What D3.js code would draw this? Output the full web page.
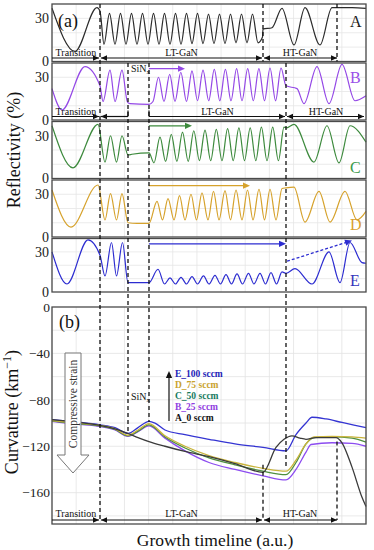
<!DOCTYPE html>
<html><head><meta charset="utf-8">
<script src="https://cdn.jsdelivr.net/npm/d3@7/dist/d3.min.js"></script>
<style>
body{margin:0;background:#fff}
svg{display:block}
text{font-family:"Liberation Serif","Times New Roman",serif}
</style>
</head><body>
<svg id="c" width="374" height="550"></svg>
<script>
// ---------------- DATA ----------------
const timelineMax = 314;             // growth timeline, a.u.
const reflTicks = [0, 30];
const curvTicks = [0, -40, -80, -120, -160];
const sampleNames = ["A", "B", "C", "D", "E"];
const legendLabels = ["E_100 sccm", "D_75 sccm", "C_50 sccm", "B_25 sccm", "A_0 sccm"];

// reflectivity (%) vs timeline : [t, R]
const reflA = [[0,37],[23,7],[45,37.5],[48,35],[52,12],[57.5,33.5],[63,12],[68.5,33.5],[74,12],[79.5,33.5],[85,12],[90.5,33.5],[96,12],[101.5,33.5],[107,12],[112.5,33.5],[118,12],[123.5,33.5],[129,12],[134.5,33.5],[140,12.5],[145.5,33.5],[151,12.5],[156.5,33],[162,12.5],[167.5,33],[173,12.5],[178.5,33],[184,13],[189.5,33],[195,13],[200.5,33],[206,13],[210.5,17],[211,22.5],[220,23.5],[230,37],[242,11.5],[253,37.5],[268,11.5],[280,37.5],[285,37.5],[300,37.5],[314,37]];
const reflB = [[0,22],[10,7],[33,37.5],[48,24],[51,13],[58,35],[63,13],[70,35],[75.5,12.5],[78,11.5],[97,11],[101,13],[106.5,30],[112,13],[117.7,32],[123,13],[128.8,33.5],[134.5,13],[140,34.5],[145.5,13.5],[151,35],[156.7,13.5],[162.3,35.5],[167.8,13.5],[173.4,35.5],[179,13.5],[184.6,36],[190,13.5],[195.7,36],[201.3,13.5],[206.9,36],[212.5,13.5],[218,36.5],[223.6,13.5],[229,36.5],[234,24],[245,22],[252,11.5],[265,37.5],[277,11.5],[290,39],[303,13.5],[314,17]];
const reflC = [[0,37],[21,7.5],[46,38],[53,11.5],[58.5,30],[64.5,11.5],[70,30],[76,16.5],[80,17],[97,18],[102,11],[108,29],[113.6,12],[119.3,31],[124.9,12],[130.5,32.5],[136.2,12],[141.8,33.5],[147.4,12.5],[153,34],[158.7,12.5],[164.3,34.5],[170,12.5],[175.6,35],[181.2,12.5],[186.9,35.5],[192.5,12.5],[198.2,35.5],[203.8,12.5],[209.4,36],[215,12.5],[220.7,36],[226.4,12.5],[232,36],[234,35.5],[242,38],[262,11.5],[275,37],[287,11],[298,37],[314,25.5]];
const reflD = [[0,33],[19,7],[46,36.5],[53,12],[58.5,30.5],[64.5,12],[70,30.5],[76,10],[85,9.5],[97,9.5],[105,25],[110.5,12],[116,27],[122,12],[127.5,29],[133,12],[139,30],[144.5,12],[150,31],[156,12],[161.5,32],[167,12],[173,32.5],[178.5,12],[184,33],[190,12],[195.5,33],[201,12],[207,33.5],[212.5,12],[218,33.5],[224,12],[230,34],[234,34.5],[242,35],[253,10.5],[267,32],[278,10.5],[293,32],[305,12],[314,18]];
const reflE = [[0,30],[15,6],[36,39],[48,27.5],[53,12],[59.5,37],[64.5,12],[70.5,37],[76,7],[85,7],[97,7],[106,17],[112.5,6],[118,10.5],[123.5,6],[129,11],[134.5,6],[140,11.5],[145.5,6],[151.5,12],[157,6],[163,12.5],[168.5,6],[174,13],[179.5,6],[185,13.5],[190.5,6],[196.5,14],[202,6],[208,14],[213.5,6],[219,14.5],[224.5,6],[230,15],[234,14],[243,17.5],[260,6],[277,30],[288,7],[298,37],[310,22],[314,21.5]];

// curvature (km^-1) vs timeline : [t, K]
const curvA = [[0,-97],[24,-99],[48,-102],[63,-105],[76,-109],[86,-112.5],[97,-116],[113,-120],[133,-124.5],[157,-129],[183,-135],[211,-142.5],[224,-121],[232,-114],[240,-111],[248,-113],[254,-114],[264,-112.5],[284,-112.5],[290,-117],[300,-138],[310,-164],[314,-172]];
const curvB = [[0,-98.5],[24,-101],[48,-103],[63,-106],[76,-111.5],[86,-107.5],[97,-102.5],[113,-113],[133,-124],[157,-134],[183,-140],[211,-145.5],[234,-149],[244,-140],[254,-125],[259,-118.5],[280,-117],[300,-117.5],[314,-120]];
const curvC = [[0,-98],[24,-100.5],[48,-102.5],[63,-105.5],[76,-111],[86,-107],[97,-101.5],[113,-112],[133,-121.5],[157,-130],[183,-136],[211,-141.5],[234,-144.5],[244,-134],[254,-118],[262,-112.5],[280,-112],[300,-113],[314,-116.5]];
const curvD = [[0,-98],[24,-100],[48,-102],[63,-105],[76,-110.5],[86,-106],[97,-100.5],[113,-111],[133,-120],[157,-128],[183,-134],[211,-139],[234,-141.5],[244,-132],[254,-118],[262,-112],[280,-111.5],[300,-112],[314,-113]];
const curvE = [[0,-97],[24,-99],[48,-101.5],[63,-104],[76,-109],[86,-104],[97,-98.5],[103,-100],[113,-106],[133,-110],[157,-114],[183,-118],[211,-121],[234,-124],[244,-110],[254,-100],[260,-95],[274,-96.5],[290,-99.5],[314,-104]];

// stage boundaries on the timeline
const stagesA = [["Transition",0,48],["LT-GaN",48,211],["HT-GaN",211,285]];
const stagesB = [["Transition",0,48],["LT-GaN",97,234],["HT-GaN",234,314]];
const sinStart = 76, sinEnd = 97;

// ---------------- DRAWING ----------------
const svg = d3.select("#c");
const X0 = 52, X1 = 366;
const x = d3.scaleLinear().domain([0, timelineMax]).range([X0, X1]);
const gridX = d3.range(0, timelineMax + 0.1, timelineMax / 13);

const panels = [
  {name:"A", data:reflA, top:4,     bottom:61.5, color:"#2b2b2b", lab:"#1a1a1a", ly:23},
  {name:"B", data:reflB, top:63,    bottom:120,  color:"#9448e6", lab:"#9a4ee8", ly:20},
  {name:"C", data:reflC, top:121.5, bottom:178.5,color:"#3d8a3d", lab:"#3a9a4a", ly:51},
  {name:"D", data:reflD, top:180,   bottom:237,  color:"#d6a22c", lab:"#d9a030", ly:50},
  {name:"E", data:reflE, top:238.5, bottom:292,  color:"#2c2cd0", lab:"#3333bb", ly:47}
];
panels.forEach(p => p.y = d3.scaleLinear().domain([0, 40]).range([p.bottom, p.top]));

function head(g, xx, yy, angle, color, size) {
  size = size || 6;
  const a = angle, w = size * 0.45;
  const pts = [[xx, yy],
    [xx - size*Math.cos(a) + w*Math.sin(a), yy - size*Math.sin(a) - w*Math.cos(a)],
    [xx - size*Math.cos(a) - w*Math.sin(a), yy - size*Math.sin(a) + w*Math.cos(a)]];
  g.append("path").attr("d", "M" + pts.map(p => p.join(",")).join("L") + "Z").attr("fill", color);
}
function hArrow(g, x1, x2, yy, h1, h2, color) {
  color = color || "#111";
  g.append("line").attr("x1", x1).attr("x2", x2).attr("y1", yy).attr("y2", yy)
    .attr("stroke", color).attr("stroke-width", 1.2);
  if (h1) head(g, x1, yy, Math.PI, color);
  if (h2) head(g, x2, yy, 0, color);
}

const gGrid = svg.append("g");
const gLines = svg.append("g");
const gAnn = svg.append("g");

// ---- panel (a) ----
panels.forEach(p => {
  gridX.forEach(t => gGrid.append("line").attr("x1", x(t)).attr("x2", x(t))
    .attr("y1", p.top).attr("y2", p.bottom).attr("stroke", "#e6e6e6").attr("stroke-width", 0.8));
  [10,20,30].forEach(v => gGrid.append("line").attr("x1", X0).attr("x2", X1)
    .attr("y1", p.y(v)).attr("y2", p.y(v)).attr("stroke", "#e6e6e6").attr("stroke-width", 0.8));
  const line = d3.line().x(d => x(d[0])).y(d => p.y(d[1])).curve(d3.curveMonotoneX);
  gLines.append("path").datum(p.data).attr("d", line).attr("fill", "none")
    .attr("stroke", p.color).attr("stroke-width", 1.2);
  gAnn.append("rect").attr("x", X0).attr("y", p.top).attr("width", X1 - X0).attr("height", p.bottom - p.top)
    .attr("fill", "none").attr("stroke", "#4a4a4a").attr("stroke-width", 1.3);
  reflTicks.forEach(v => gAnn.append("text").attr("x", 49).attr("y", p.y(v)).attr("dy", "0.35em")
    .attr("text-anchor", "end").attr("font-size", 14).attr("fill", "#222").text(v));
  gAnn.append("text").attr("x", 350).attr("y", p.top + p.ly)
    .attr("font-size", 16).attr("fill", p.lab).text(p.name);
});
const PA = panels[0], PB = panels[1], PC = panels[2], PD = panels[3], PE = panels[4];

// stage arrows in A
const yArrA = 58, yArrB = 116.5;
hArrow(gAnn, x(stagesA[0][1]), x(stagesA[0][2]) - 1, yArrA, false, true);
hArrow(gAnn, x(stagesA[1][1]) + 1, x(stagesA[1][2]) - 1, yArrA, true, true);
hArrow(gAnn, x(stagesA[2][1]) + 1, x(stagesA[2][2]), yArrA, true, true);
stagesA.forEach(s => gAnn.append("text").attr("x", x((s[1] + s[2]) / 2)).attr("y", yArrA - 2)
  .attr("text-anchor", "middle").attr("font-size", 10).attr("fill", "#111").text(s[0]));
// stage arrows in B
hArrow(gAnn, x(0), x(48) - 1, yArrB, false, true);
hArrow(gAnn, x(48) + 1, x(sinStart), yArrB, true, false);
gAnn.append("line").attr("x1", x(sinStart)).attr("x2", x(sinStart)).attr("y1", yArrB).attr("y2", yArrB - 6).attr("stroke", "#111").attr("stroke-width", 1.2);
hArrow(gAnn, x(sinEnd), x(234) - 1, yArrB, false, true);
gAnn.append("line").attr("x1", x(sinEnd)).attr("x2", x(sinEnd)).attr("y1", yArrB).attr("y2", yArrB - 6).attr("stroke", "#111").attr("stroke-width", 1.2);
hArrow(gAnn, x(234) + 1, x(314) - 2, yArrB, true, true);
stagesB.forEach(s => gAnn.append("text").attr("x", x((s[1] + s[2]) / 2)).attr("y", yArrB - 2)
  .attr("text-anchor", "middle").attr("font-size", 10).attr("fill", "#111").text(s[0]));
// SiNx in B
const sinA = gAnn.append("text").attr("x", x(sinStart) + 3).attr("y", PB.y(34)).attr("font-size", 10).attr("fill", "#111");
sinA.append("tspan").text("SiN");
sinA.append("tspan").attr("font-size", 7).attr("dy", 2).text("x");

// colored growth arrows
[[PB, 133, 36], [PC, 140, 37], [PD, 198, 36], [PE, 234, 36]].forEach(([p, t2, v]) => {
  gAnn.append("line").attr("x1", x(sinEnd)).attr("x2", x(t2) - 3).attr("y1", p.y(v)).attr("y2", p.y(v))
    .attr("stroke", p.color).attr("stroke-width", 1.3);
  head(gAnn, x(t2), p.y(v), 0, p.color, 7);
});
// dashed arrow in E
{
  const x1 = x(235), y1 = PE.y(23), x2 = x(300), y2 = PE.y(38.5);
  const ang = Math.atan2(y2 - y1, x2 - x1);
  gAnn.append("line").attr("x1", x1).attr("y1", y1).attr("x2", x2 - 5*Math.cos(ang)).attr("y2", y2 - 5*Math.sin(ang))
    .attr("stroke", PE.color).attr("stroke-width", 1.3).attr("stroke-dasharray", "3,2");
  head(gAnn, x2, y2, ang, PE.color, 7);
}
gAnn.append("text").attr("x", 58).attr("y", 27).attr("font-size", 18).attr("fill", "#111").text("(a)");

// ---- panel (b) ----
const BT = 307, BB = 524;
const yc = d3.scaleLinear().domain([-187, 0]).range([BB, BT]);
gridX.forEach(t => gGrid.append("line").attr("x1", x(t)).attr("x2", x(t))
  .attr("y1", BT).attr("y2", BB).attr("stroke", "#e3e3e3").attr("stroke-width", 0.8));
d3.range(-180, 0, 20).forEach(v => gGrid.append("line").attr("x1", X0).attr("x2", X1)
  .attr("y1", yc(v)).attr("y2", yc(v)).attr("stroke", "#e3e3e3").attr("stroke-width", 0.8));
const curvSeries = [
  {data:curvE, color:"#3434d2"},
  {data:curvB, color:"#8c4cf0"},
  {data:curvC, color:"#4f8f3f"},
  {data:curvD, color:"#c9b43c"},
  {data:curvA, color:"#3a3a3a"}
];
const cLine = d3.line().x(d => x(d[0])).y(d => yc(d[1])).curve(d3.curveMonotoneX);
curvSeries.forEach(s => gLines.append("path").datum(s.data).attr("d", cLine).attr("fill", "none")
  .attr("stroke", s.color).attr("stroke-width", 1.3));
gAnn.append("rect").attr("x", X0).attr("y", BT).attr("width", X1 - X0).attr("height", BB - BT)
  .attr("fill", "none").attr("stroke", "#4a4a4a").attr("stroke-width", 1.3);
curvTicks.forEach(v => gAnn.append("text").attr("x", 50).attr("y", yc(v)).attr("dy", "0.35em")
  .attr("text-anchor", "end").attr("font-size", 13.5).attr("fill", "#222").text(v === 0 ? "0" : "\u2212" + Math.abs(v)));
gAnn.append("text").attr("x", 59).attr("y", 328).attr("font-size", 18).attr("fill", "#111").text("(b)");

// stage arrows in (b)
const yArrC = 520;
hArrow(gAnn, x(0), x(48) - 1, yArrC, false, true);
hArrow(gAnn, x(48) + 1, x(211) - 1, yArrC, true, true);
hArrow(gAnn, x(211) + 1, x(285), yArrC, true, true);
stagesA.forEach(s => gAnn.append("text").attr("x", x((s[1] + s[2]) / 2)).attr("y", yArrC - 3)
  .attr("text-anchor", "middle").attr("font-size", 10).attr("fill", "#111").text(s[0]));
const sinB = gAnn.append("text").attr("x", x(sinStart) + 3).attr("y", yc(-80)).attr("font-size", 10).attr("fill", "#111");
sinB.append("tspan").text("SiN");
sinB.append("tspan").attr("font-size", 7).attr("dy", 2).text("x");

// legend
const legColors = ["#2323b8", "#c9a22e", "#167a5e", "#9040e0", "#111"];
const lx = 169, ly0 = 377, ldy = 11;
gAnn.append("line").attr("x1", lx).attr("x2", lx).attr("y1", 421).attr("y2", 376).attr("stroke", "#111").attr("stroke-width", 1.2);
head(gAnn, lx, 371, -Math.PI / 2, "#111", 7);
legendLabels.forEach((l, i) => gAnn.append("text").attr("x", lx + 6).attr("y", ly0 + i * ldy)
  .attr("font-size", 9.5).attr("font-weight", "bold").attr("fill", legColors[i]).text(l));

// compressive strain arrow
gAnn.append("path").attr("d", "M65,353 L81,353 L81,455 L89,455 L73,473 L57,455 L65,455 Z")
  .attr("fill", "#fff").attr("stroke", "#777").attr("stroke-width", 1);
gAnn.append("text").attr("transform", "translate(77,404) rotate(-90)").attr("text-anchor", "middle")
  .attr("font-size", 11.5).attr("fill", "#333").text("Compressive strain");

// dashed guide lines
const dash = [
  [48, 4, yc(-183.5)],
  [sinStart, 63, yc(-109)],
  [sinEnd, 63, yc(-99)],
  [234, 63, yc(-138)],
  [211, 4, PA.bottom], [211, yc(-136), yc(-183.5)],
  [285, 4, PA.bottom], [285, yc(-116), yc(-183.5)]
];
dash.forEach(d => gAnn.append("line").attr("x1", x(d[0])).attr("x2", x(d[0])).attr("y1", d[1]).attr("y2", d[2])
  .attr("stroke", "#111").attr("stroke-width", 1.3).attr("stroke-dasharray", "4,3"));

// axis titles
gAnn.append("text").attr("transform", "translate(20,150) rotate(-90)").attr("text-anchor", "middle")
  .attr("font-size", 18).attr("fill", "#111").text("Reflectivity (%)");
const ct = gAnn.append("text").attr("transform", "translate(18,412) rotate(-90)").attr("text-anchor", "middle")
  .attr("font-size", 18).attr("fill", "#111");
ct.append("tspan").text("Curvature (km");
ct.append("tspan").attr("font-size", 12).attr("dy", -7).text("\u22121");
ct.append("tspan").attr("dy", 7).text(")");
gAnn.append("text").attr("x", 215).attr("y", 546).attr("text-anchor", "middle")
  .attr("font-size", 17.5).attr("fill", "#111").text("Growth timeline (a.u.)");
</script>
</body></html>
